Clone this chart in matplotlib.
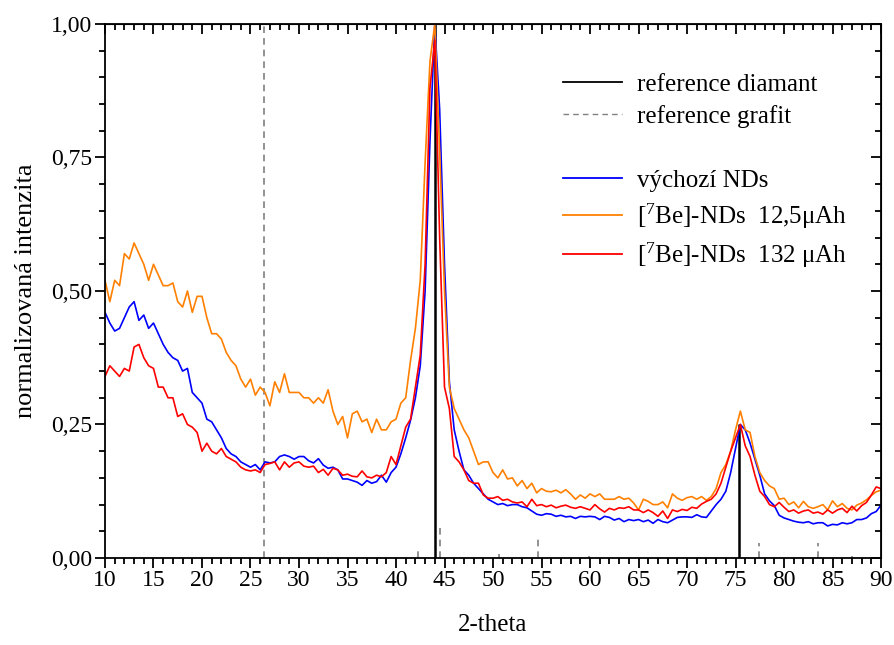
import numpy as np
import matplotlib
matplotlib.use('Agg')
import matplotlib.pyplot as plt
from matplotlib.lines import Line2D
from matplotlib.ticker import MultipleLocator, FuncFormatter

plt.rcParams['font.family'] = ['Liberation Serif', 'DejaVu Serif']
plt.rcParams['mathtext.fontset'] = 'custom'
plt.rcParams['mathtext.rm'] = 'Liberation Serif'
plt.rcParams['mathtext.it'] = 'Liberation Serif:italic'

# 2-theta grid, 0.5 deg step
two_theta = np.arange(10, 90.01, 0.5)

# vychozi NDs (blue)
blue = [0.46, 0.44, 0.425, 0.43, 0.45, 0.47, 0.48, 0.445, 0.455, 0.43,
        0.44, 0.42, 0.40, 0.385, 0.375, 0.37, 0.35, 0.355, 0.31, 0.30,
        0.29, 0.26, 0.255, 0.24, 0.225, 0.205, 0.195, 0.19, 0.18, 0.175,
        0.17, 0.175, 0.165, 0.18, 0.178, 0.18, 0.19, 0.193, 0.19, 0.185,
        0.19, 0.19, 0.182, 0.178, 0.186, 0.174, 0.168, 0.17, 0.165, 0.148,
        0.148, 0.145, 0.142, 0.136, 0.145, 0.14, 0.143, 0.155, 0.142, 0.16,
        0.17, 0.195, 0.225, 0.258, 0.30, 0.36, 0.50, 0.78, 1.0, 0.84,
        0.55, 0.33, 0.24, 0.20, 0.165, 0.155, 0.14, 0.13, 0.12, 0.11,
        0.105, 0.10, 0.102, 0.098, 0.10, 0.10, 0.096, 0.094, 0.088, 0.082,
        0.08, 0.083, 0.082, 0.078, 0.08, 0.077, 0.078, 0.074, 0.078, 0.077,
        0.078, 0.077, 0.072, 0.078, 0.076, 0.071, 0.074, 0.068, 0.072, 0.07,
        0.072, 0.068, 0.071, 0.065, 0.072, 0.068, 0.066, 0.071, 0.076, 0.077,
        0.077, 0.076, 0.081, 0.077, 0.076, 0.088, 0.10, 0.11, 0.125, 0.16,
        0.205, 0.25, 0.24, 0.215, 0.185, 0.155, 0.12, 0.107, 0.098, 0.08,
        0.075, 0.072, 0.069, 0.067, 0.066, 0.068, 0.064, 0.066, 0.066, 0.06,
        0.063, 0.062, 0.066, 0.064, 0.066, 0.072, 0.072, 0.075, 0.083, 0.087,
        0.099]

# [7Be]-NDs 12,5 uAh (orange)
orange = [0.52, 0.48, 0.52, 0.51, 0.57, 0.56, 0.59, 0.57, 0.55, 0.52,
          0.55, 0.53, 0.51, 0.51, 0.515, 0.48, 0.47, 0.50, 0.46, 0.49,
          0.49, 0.45, 0.42, 0.42, 0.41, 0.385, 0.37, 0.36, 0.335, 0.32,
          0.335, 0.305, 0.32, 0.31, 0.285, 0.33, 0.31, 0.345, 0.31, 0.31,
          0.31, 0.30, 0.30, 0.29, 0.30, 0.29, 0.315, 0.275, 0.25, 0.265,
          0.225, 0.27, 0.275, 0.255, 0.26, 0.235, 0.26, 0.24, 0.24, 0.255,
          0.26, 0.29, 0.30, 0.37, 0.43, 0.52, 0.74, 0.93, 1.0, 0.76,
          0.50, 0.32, 0.28, 0.26, 0.24, 0.225, 0.20, 0.175, 0.18, 0.18,
          0.16, 0.15, 0.165, 0.148, 0.15, 0.135, 0.145, 0.13, 0.14, 0.122,
          0.13, 0.125, 0.124, 0.127, 0.122, 0.128, 0.12, 0.11, 0.118, 0.112,
          0.12, 0.115, 0.12, 0.11, 0.11, 0.11, 0.115, 0.11, 0.112, 0.103,
          0.09, 0.11, 0.106, 0.10, 0.10, 0.105, 0.094, 0.12, 0.112, 0.108,
          0.113, 0.115, 0.11, 0.115, 0.108, 0.115, 0.13, 0.16, 0.175, 0.20,
          0.24, 0.275, 0.24, 0.235, 0.19, 0.16, 0.145, 0.135, 0.13, 0.11,
          0.112, 0.10, 0.105, 0.094, 0.106, 0.096, 0.093, 0.096, 0.10, 0.09,
          0.107, 0.096, 0.102, 0.093, 0.09, 0.099, 0.103, 0.109, 0.117, 0.124,
          0.127]

# [7Be]-NDs 132 uAh (red)
red = [0.34, 0.36, 0.35, 0.34, 0.355, 0.35, 0.395, 0.40, 0.375, 0.36,
       0.355, 0.32, 0.32, 0.30, 0.30, 0.265, 0.27, 0.25, 0.245, 0.235,
       0.20, 0.215, 0.20, 0.195, 0.205, 0.19, 0.185, 0.18, 0.17, 0.165,
       0.163, 0.165, 0.16, 0.175, 0.177, 0.18, 0.165, 0.18, 0.17, 0.178,
       0.18, 0.172, 0.17, 0.172, 0.16, 0.166, 0.155, 0.168, 0.165, 0.155,
       0.157, 0.153, 0.152, 0.163, 0.152, 0.15, 0.155, 0.152, 0.16, 0.19,
       0.175, 0.21, 0.245, 0.26, 0.32, 0.38, 0.55, 0.88, 0.97, 0.60,
       0.32, 0.28, 0.19, 0.18, 0.165, 0.145, 0.14, 0.14, 0.118, 0.112,
       0.112, 0.115, 0.108, 0.11, 0.105, 0.103, 0.105, 0.096, 0.11, 0.098,
       0.10, 0.096, 0.099, 0.094, 0.097, 0.099, 0.095, 0.093, 0.096, 0.093,
       0.09, 0.10, 0.092, 0.086, 0.093, 0.09, 0.094, 0.093, 0.096, 0.09,
       0.09, 0.085, 0.09, 0.085, 0.078, 0.088, 0.074, 0.09, 0.087, 0.091,
       0.089, 0.095, 0.093, 0.101, 0.106, 0.11, 0.12, 0.14, 0.17, 0.20,
       0.225, 0.25, 0.21, 0.19, 0.155, 0.125, 0.115, 0.10, 0.096, 0.104,
       0.095, 0.087, 0.09, 0.084, 0.088, 0.09, 0.084, 0.086, 0.082, 0.09,
       0.084, 0.09, 0.093, 0.085, 0.097, 0.088, 0.098, 0.104, 0.118, 0.133,
       0.13]

# reference lines (position, relative intensity)
diamant_pos = [44.0, 75.4]
diamant_int = [1.0, 0.25]
grafit_pos = [26.4, 42.3, 44.5, 50.6, 54.6, 59.9, 77.4, 83.5, 87.0]
grafit_int = [1.0, 0.02, 0.056, 0.007, 0.037, 0.004, 0.028, 0.028, 0.004]

fig = plt.figure(figsize=(8.95, 6.45), dpi=100)
ax = fig.add_axes([0.1173, 0.1349, 0.8671, 0.8279])

ax.vlines(grafit_pos, 0, grafit_int, colors='#808080', linestyles=(0, (4, 3)), linewidth=1.2)
ax.vlines(diamant_pos, 0, diamant_int, colors='black', linewidth=1.8)

ax.plot(two_theta, blue, color='#0000ff', linewidth=1.2)
ax.plot(two_theta, orange, color='#ff8000', linewidth=1.2)
ax.plot(two_theta, red, color='#ff0000', linewidth=1.2)

ax.set_xlim(10, 90)
ax.set_ylim(0, 1)
ax.xaxis.set_major_locator(MultipleLocator(5))
ax.xaxis.set_minor_locator(MultipleLocator(1))
ax.yaxis.set_major_locator(MultipleLocator(0.25))
ax.yaxis.set_minor_locator(MultipleLocator(0.05))
ax.yaxis.set_major_formatter(FuncFormatter(lambda v, p: ('%.2f' % v).replace('.', ',')))

ax.tick_params(which='both', direction='out', top=False, right=False, labelsize=17, width=1.3, pad=2)
ax.tick_params(which='major', length=7)
ax.tick_params(which='minor', length=4)
for s in ax.spines.values():
    s.set_linewidth(1.3)

# inward ticks on top and right
sec_x = ax.secondary_xaxis('top')
sec_x.xaxis.set_major_locator(MultipleLocator(5))
sec_x.xaxis.set_minor_locator(MultipleLocator(1))
sec_x.tick_params(which='both', direction='in', labeltop=False, width=1.3)
sec_x.tick_params(which='major', length=7)
sec_x.tick_params(which='minor', length=4)
sec_y = ax.secondary_yaxis('right')
sec_y.yaxis.set_major_locator(MultipleLocator(0.25))
sec_y.yaxis.set_minor_locator(MultipleLocator(0.05))
sec_y.tick_params(which='both', direction='in', labelright=False, width=1.3)
sec_y.tick_params(which='major', length=7)
sec_y.tick_params(which='minor', length=4)

ax.set_xlabel('2-theta', fontsize=18, labelpad=16)
ax.set_ylabel('normalizovaná intenzita', fontsize=19, labelpad=10)

handles = [
    Line2D([], [], color='black', linewidth=1.3),
    Line2D([], [], color='#808080', linewidth=1.0, linestyle=(0, (4, 3))),
    Line2D([], [], color='none'),
    Line2D([], [], color='#0000ff', linewidth=1.3),
    Line2D([], [], color='#ff8000', linewidth=1.3),
    Line2D([], [], color='#ff0000', linewidth=1.3),
]
labels = ['reference diamant', 'reference grafit', ' ', 'výchozí NDs',
          r'[$^7$Be]-NDs  12,5μAh', r'[$^7$Be]-NDs  132 μAh']
ax.legend(handles, labels, loc='upper left', bbox_to_anchor=(0.590, 0.908),
          frameon=False, fontsize=18, handlelength=2.35, handletextpad=0.6,
          labelspacing=0.38, borderpad=0, borderaxespad=0)

fig.savefig('out.png', dpi=100)
